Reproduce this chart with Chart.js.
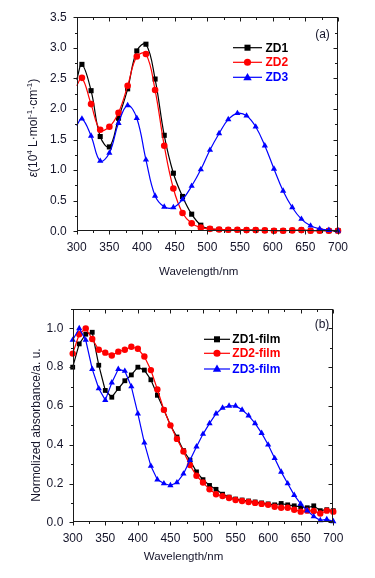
<!DOCTYPE html>
<html><head><meta charset="utf-8">
<script src="https://cdn.jsdelivr.net/npm/chart.js@4"></script>
<style>
html,body{margin:0;padding:0;background:#fff;width:375px;height:578px;overflow:hidden}
.wrap{position:absolute;left:0;width:375px}
canvas{display:block}
</style></head><body>
<div class="wrap" style="top:0;height:290px"><canvas id="ca" width="375" height="290"></canvas></div>
<div class="wrap" style="top:290px;height:288px"><canvas id="cb" width="375" height="288"></canvas></div>
<script>
// ---------- Panel (a): solution spectra ----------
const wlA = [300,308,322,336,350,364,378,392,406,420,434,448,462,476,490,504,518,532,546,560,574,588,602,616,630,644,658,672,686,700];
const zd1 = [2.48,2.73,2.30,1.55,1.38,1.85,2.33,2.95,3.06,2.49,1.57,0.95,0.57,0.28,0.10,0.04,0.03,0.025,0.025,0.02,0.02,0.015,0.01,0.01,0.015,0.02,0.01,0.01,0.01,0.01];
const zd2 = [2.38,2.51,2.08,1.66,1.71,1.94,2.38,2.86,2.90,2.31,1.40,0.70,0.30,0.13,0.06,0.04,0.03,0.025,0.025,0.02,0.02,0.015,0.01,0.01,0.015,0.02,0.01,0.01,0.01,0.01];
const zd3 = [1.73,1.84,1.56,1.15,1.28,1.77,2.06,1.85,1.17,0.58,0.40,0.39,0.52,0.74,1.01,1.33,1.60,1.83,1.93,1.89,1.71,1.40,1.02,0.66,0.39,0.20,0.09,0.04,0.02,0.01];
const labelsA = ['ZD1','ZD2','ZD3'];
const xTicksA = [300,350,400,450,500,550,600,650,700];
const yTicksA = [0,0.5,1.0,1.5,2.0,2.5,3.0,3.5];

// ---------- Panel (b): film spectra ----------
const wlB = [300,310,320,330,340,350,360,370,380,390,400,410,420,430,440,450,460,470,480,490,500,510,520,530,540,550,560,570,580,590,600,610,620,630,640,650,660,670,680,690,700];
const zd1f = [0.80,0.92,0.97,0.98,0.81,0.68,0.645,0.69,0.73,0.76,0.80,0.785,0.735,0.655,0.58,0.50,0.44,0.37,0.32,0.26,0.22,0.19,0.17,0.145,0.13,0.12,0.115,0.11,0.105,0.10,0.095,0.09,0.097,0.09,0.085,0.08,0.075,0.085,0.06,0.065,0.06];
const zd2f = [0.87,0.97,1.00,0.945,0.89,0.875,0.86,0.88,0.89,0.905,0.895,0.855,0.785,0.685,0.58,0.50,0.43,0.365,0.295,0.24,0.205,0.17,0.145,0.135,0.125,0.115,0.11,0.105,0.10,0.095,0.09,0.08,0.075,0.075,0.065,0.055,0.06,0.058,0.045,0.06,0.055];
const zd3f = [0.94,1.00,0.94,0.79,0.69,0.63,0.72,0.79,0.78,0.70,0.56,0.41,0.29,0.22,0.20,0.19,0.205,0.25,0.32,0.39,0.455,0.51,0.56,0.59,0.60,0.60,0.58,0.55,0.51,0.46,0.40,0.33,0.26,0.20,0.14,0.095,0.06,0.03,0.01,0.015,0.005];
const labelsB = ['ZD1-film','ZD2-film','ZD3-film'];
const xTicksB = [300,350,400,450,500,550,600,650,700];
const yTicksB = [0,0.2,0.4,0.6,0.8,1.0];

const COLORS = ['#000000','#ff0000','#0000ff'];
const STYLES = ['rect','circle','triangle'];
const FONT = "'Liberation Sans', Arial, sans-serif";
const TXT = '#15152a';

function pts(xs, ys){ return xs.map((x,i)=>({x:x,y:ys[i]})); }

function drawMarker(ctx, style, x, y, r, color){
  ctx.fillStyle = color;
  ctx.beginPath();
  if (style==='rect'){ const s=r*0.72; ctx.rect(x-s,y-s,2*s,2*s); }
  else if (style==='circle'){ ctx.arc(x,y,r*0.85,0,Math.PI*2); }
  else { const h=r*1.05; ctx.moveTo(x,y-h); ctx.lineTo(x+h*0.95,y+h*0.65); ctx.lineTo(x-h*0.95,y+h*0.65); ctx.closePath(); }
  ctx.fill();
}

function drawRich(ctx, segs, size){
  let w = 0;
  segs.forEach(s=>{ ctx.font = (s.it?'italic ':'') + (s.sup? Math.round(size*0.65):size) + 'px ' + FONT; s.w = ctx.measureText(s.t).width; w += s.w; });
  let x = -w/2;
  segs.forEach(s=>{
    ctx.font = (s.it?'italic ':'') + (s.sup? Math.round(size*0.65):size) + 'px ' + FONT;
    ctx.fillText(s.t, x, s.sup ? -size*0.38 : 0);
    x += s.w;
  });
}

function framePlugin(o){
  return {
    id:'frame',
    afterDraw(chart){
      const ctx = chart.ctx, a = chart.chartArea, xs = chart.scales.x, ys = chart.scales.y;
      ctx.save();
      ctx.strokeStyle = '#1a1a1a'; ctx.lineWidth = 1;
      const L = Math.round(a.left)+0.5, R = Math.round(a.right)-0.5, T = Math.round(a.top)+0.5, B = Math.round(a.bottom)-0.5;
      ctx.strokeRect(L, T, R-L, B-T);
      ctx.beginPath();
      for (let v=o.xMin; v<=o.xMax+1e-9; v+=o.xMinor){
        const px = Math.round(xs.getPixelForValue(v))+0.5;
        const major = Math.abs(((v-o.xMin)/o.xMajor) - Math.round((v-o.xMin)/o.xMajor))<1e-6;
        const len = major?4:2.5;
        ctx.moveTo(px,B); ctx.lineTo(px,B+len);
        ctx.moveTo(px,T); ctx.lineTo(px,T+len);
      }
      for (let v=o.yMin; v<=o.yMax+1e-9; v+=o.yMinor){
        const py = Math.round(ys.getPixelForValue(v))+0.5;
        const major = Math.abs((v/o.yMajor) - Math.round(v/o.yMajor))<1e-6;
        const len = major?4:2.5;
        ctx.moveTo(L,py); ctx.lineTo(L-len,py);
        ctx.moveTo(R,py); ctx.lineTo(R-len,py);
      }
      ctx.stroke();

      ctx.fillStyle = TXT; ctx.textBaseline='middle';
      ctx.font = '11.5px ' + FONT;
      ctx.textAlign='center';
      ctx.fillText('Wavelength/nm', o.xTitle[0], o.xTitle[1]);
      ctx.save();
      ctx.translate(o.yTitle[0], o.yTitle[1]); ctx.rotate(-Math.PI/2);
      ctx.textAlign='left';
      drawRich(ctx, o.yTitleSegs, 12);
      ctx.restore();

      ctx.textAlign='center'; ctx.font = '12px ' + FONT; ctx.fillStyle = TXT;
      ctx.fillText(o.panel, o.panelPos[0], o.panelPos[1]);

      chart.data.datasets.forEach((ds,i)=>{
        const y = o.legY[i];
        ctx.strokeStyle = ds.borderColor; ctx.lineWidth = 1.2;
        ctx.beginPath(); ctx.moveTo(o.legX[0], y); ctx.lineTo(o.legX[1], y); ctx.stroke();
        drawMarker(ctx, ds.pointStyle, (o.legX[0]+o.legX[1])/2, y, 4.2, ds.borderColor);
        ctx.fillStyle = ds.borderColor; ctx.textAlign='left';
        ctx.font = 'bold 12px ' + FONT;
        ctx.fillText(ds.label, o.legX[2], y+0.5);
      });
      ctx.restore();
    }
  };
}

function makeChart(id, o){
  const datasets = o.series.map((s,i)=>({
    label: o.labels[i],
    data: pts(o.wl, s),
    borderColor: COLORS[i], backgroundColor: COLORS[i],
    borderWidth: 1.2,
    pointStyle: STYLES[i],
    pointRadius: (c)=> (o.hideFirst && c.raw && c.raw.x===o.wl[0]) ? 0 : o.radius[i],
    pointBorderWidth: 0,
    tension: o.tension,
    order: 3-i,
    clip: false
  }));
  new Chart(document.getElementById(id), {
    type:'line',
    data:{datasets},
    options:{
      responsive:false, animation:false, events:[],
      layout:{padding:{top:o.pad[0], right:o.pad[1], bottom:0, left:0}},
      plugins:{legend:{display:false}, tooltip:{enabled:false}, title:{display:false}},
      scales:{
        x:{type:'linear', min:o.xMin, max:o.xMax,
           afterFit(s){ s.height = o.xH; },
           afterBuildTicks(s){ s.ticks = o.xTicks.map(v=>({value:v})); },
           grid:{display:false, drawTicks:false, tickLength:0}, border:{display:false},
           ticks:{padding:o.xPad, autoSkip:false, maxRotation:0, color:TXT, font:{family:FONT, size:12}}},
        y:{type:'linear', min:o.yMin, max:o.yMax,
           afterFit(s){ s.width = o.yW; },
           afterBuildTicks(s){ s.ticks = o.yTicks.map(v=>({value:v})); },
           grid:{display:false, drawTicks:false, tickLength:0}, border:{display:false},
           ticks:{padding:o.yPad, autoSkip:false, color:TXT, font:{family:FONT, size:12},
                  callback:(v)=>Number(v).toFixed(1)}}
      }
    },
    plugins:[framePlugin(o)]
  });
}

makeChart('ca', {
  wl: wlA, series:[zd1,zd2,zd3], labels: labelsA, radius:[3.6,3.3,3.6], tension:0.4, hideFirst:true,
  xMin:300, xMax:700, xMajor:50, xMinor:25, yMin:0, yMax:3.5, yMajor:0.5, yMinor:0.25,
  xTicks:xTicksA, yTicks:yTicksA,
  pad:[17.3, 37], xH:58.7, yW:76.7, xPad:9.5, yPad:10,
  xTitle:[198.7, 271.7], yTitle:[34, 128],
  yTitleSegs:[{t:'ε',it:true},{t:'(10'},{t:'4',sup:true},{t:' L·mol'},{t:'-1',sup:true},{t:'·cm'},{t:'-1',sup:true},{t:')'}],
  panel:'(a)', panelPos:[322.5, 35],
  legX:[233, 262, 265.5], legY:[47.7, 62.3, 77.3]
});

makeChart('cb', {
  wl: wlB, series:[zd1f,zd2f,zd3f], labels: labelsB, radius:[3.4,3.2,3.6], tension:0, hideFirst:false,
  xMin:300, xMax:700, xMajor:50, xMinor:25, yMin:0, yMax:1.1, yMajor:0.2, yMinor:0.1,
  xTicks:xTicksB, yTicks:yTicksB,
  pad:[19, 41.7], xH:55.7, yW:72.7, xPad:9.5, yPad:9.4,
  xTitle:[183.5, 266.7], yTitle:[37, 135],
  yTitleSegs:[{t:'Normolized absorbance/a. u.'}],
  panel:'(b)', panelPos:[322, 34.3],
  legX:[204, 230, 232.3], legY:[49.3, 63.3, 79]
});
</script>
</body></html>
